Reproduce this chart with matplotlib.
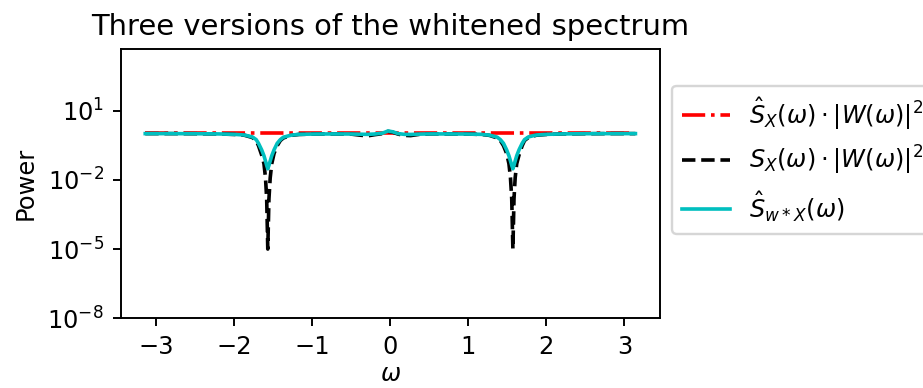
"""Three versions of the whitened spectrum, log-power vs frequency."""

import matplotlib

matplotlib.use("Agg")
import matplotlib.pyplot as plt  # noqa: E402

# frequency nodes (rad/sample), denser around the notches at +-pi/2
omega = [-3.1416, -2.8, -2.5, -2.2, -2.0, -1.87, -1.77, -1.72, -1.69, -1.65,
         -1.62, -1.60, -1.585, -1.5708, -1.556, -1.54, -1.52, -1.49, -1.45,
         -1.41, -1.37, -1.27, -1.17, -0.97, -0.7, -0.5, -0.38, -0.29, -0.2,
         -0.1, -0.03, 0.03, 0.1, 0.18, 0.26, 0.36, 0.5, 0.7, 0.97, 1.17, 1.27,
         1.37, 1.41, 1.45, 1.49, 1.52, 1.54, 1.556, 1.5708, 1.585, 1.60, 1.62,
         1.65, 1.69, 1.72, 1.77, 1.87, 2.0, 2.2, 2.5, 2.8, 3.1416]

# estimated spectrum times whitening filter (flat)
s_hat_w = [1.05] * len(omega)

# true spectrum times whitening filter (deep notches)
s_true_w = [1.0, 1.0, 0.99, 0.97, 0.92, 0.85, 0.68, 0.5, 0.3, 0.12,
            0.05, 0.012, 0.0015, 1.0e-5, 0.0015, 0.012, 0.05, 0.14, 0.3,
            0.5, 0.65, 0.84, 0.92, 0.96, 0.97, 0.95, 0.85, 0.8, 0.9,
            1.0, 1.25, 1.15, 0.95, 0.84, 0.82, 0.92, 0.97, 0.97, 0.96, 0.92, 0.84,
            0.65, 0.5, 0.3, 0.14, 0.05, 0.012, 0.0015, 1.0e-5, 0.0015, 0.012, 0.05,
            0.12, 0.3, 0.5, 0.68, 0.85, 0.92, 0.97, 0.99, 1.0, 1.0]

# estimated spectrum of the filtered signal (shallow notches)
s_hat_filt = [1.0, 1.0, 0.99, 0.97, 0.93, 0.87, 0.72, 0.55, 0.38, 0.2,
              0.11, 0.065, 0.042, 0.03, 0.042, 0.065, 0.11, 0.2, 0.38,
              0.55, 0.7, 0.86, 0.93, 0.96, 0.97, 0.96, 0.94, 0.93, 0.96,
              1.05, 1.3, 1.2, 1.0, 0.93, 0.92, 0.95, 0.97, 0.97, 0.96, 0.93, 0.86,
              0.7, 0.55, 0.38, 0.2, 0.11, 0.065, 0.042, 0.03, 0.042, 0.065, 0.11,
              0.2, 0.38, 0.55, 0.72, 0.87, 0.93, 0.97, 0.99, 1.0, 1.0]

DPI = 174
fig = plt.figure(figsize=(923 / DPI, 388 / DPI), dpi=DPI)
ax = fig.add_axes([0.1308, 0.1796, 0.5842, 0.6934])

ax.semilogy(omega, s_hat_w, "r-.", label=r"$\hat{S}_X(\omega)\cdot|W(\omega)|^2$")
ax.semilogy(omega, s_true_w, "k--", label=r"$S_X(\omega)\cdot|W(\omega)|^2$")
ax.semilogy(omega, s_hat_filt, "c-", label=r"$\hat{S}_{w*X}(\omega)$")

ax.set_ylim(1e-8, 4.5e3)
ax.set_yticks([1e-8, 1e-5, 1e-2, 1e1])
ax.minorticks_off()
ax.set_xlabel(r"$\omega$", labelpad=1)
ax.set_ylabel("Power")
ax.set_title("Three versions of the whitened spectrum")
ax.legend(loc="upper left", bbox_to_anchor=(1.0, 0.91))

fig.savefig("out.png", dpi=DPI)
